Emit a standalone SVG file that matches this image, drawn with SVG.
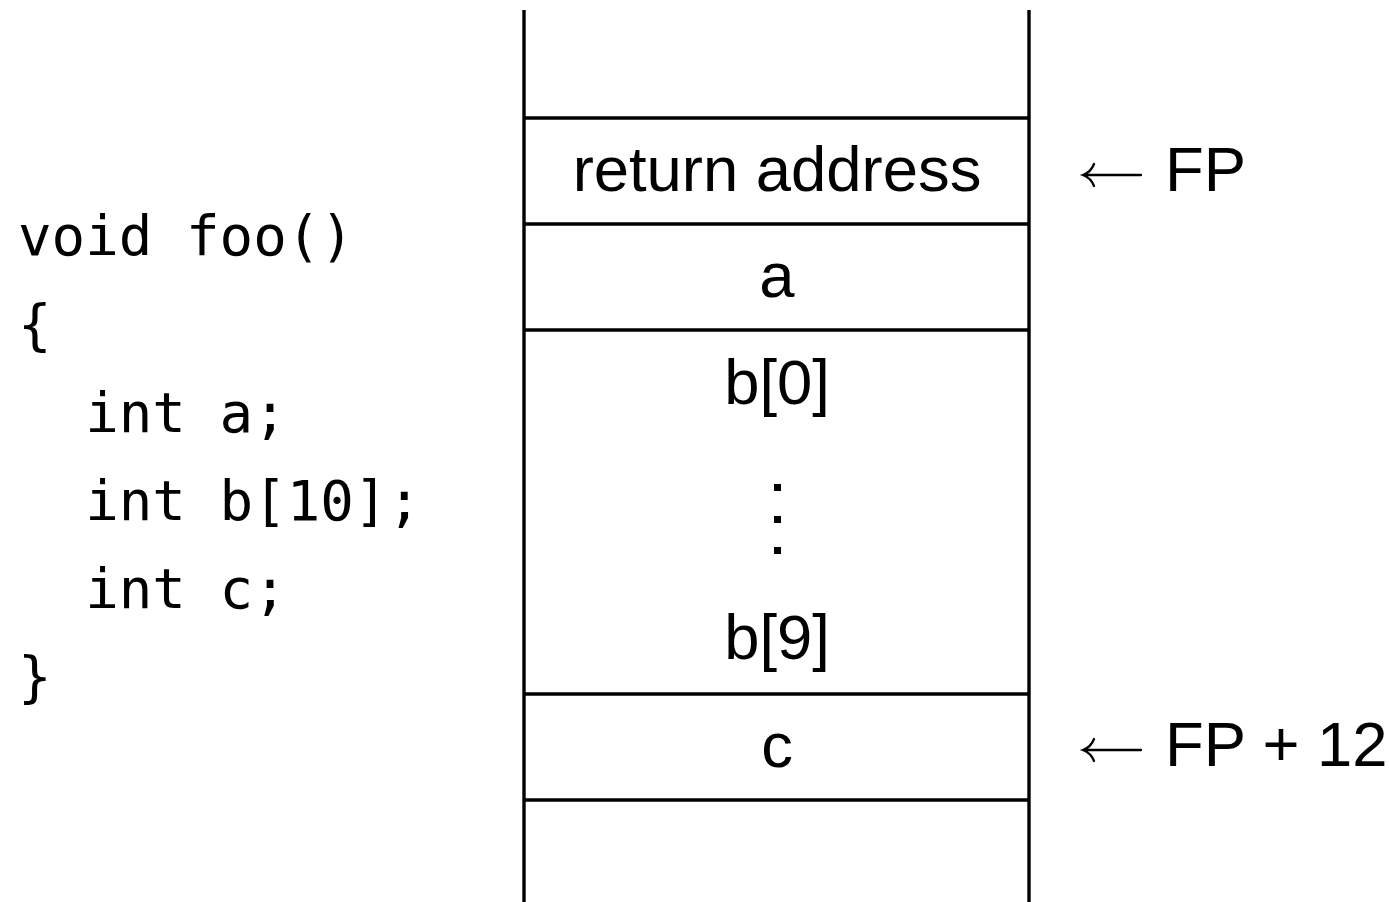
<svg xmlns="http://www.w3.org/2000/svg" width="1389" height="902" viewBox="0 0 1389 902">
<style>
.code{font-family:"DejaVu Sans Mono","Liberation Mono",monospace;font-size:55.8px;fill:#000}
.lbl{font-family:"Liberation Sans",Arial,sans-serif;font-size:63.4px;fill:#000}
.ln{stroke:#000;stroke-width:3.4;fill:none}
.arr{stroke:#000;stroke-width:2.3;fill:none;stroke-linecap:round}
</style>
<rect width="1389" height="902" fill="#fff"/>
<g id="code">
<text class="code" x="18" y="255">void foo()</text>
<text class="code" x="18" y="344">{</text>
<text class="code" x="18" y="432" xml:space="preserve">  int a;</text>
<text class="code" x="18" y="520" xml:space="preserve">  int b[10];</text>
<text class="code" x="18" y="608" xml:space="preserve">  int c;</text>
<text class="code" x="18" y="696">}</text>
</g>
<g id="stack">
<line class="ln" x1="524" y1="10" x2="524" y2="902"/>
<line class="ln" x1="1029" y1="10" x2="1029" y2="902"/>
<line class="ln" x1="524" y1="118" x2="1029" y2="118"/>
<line class="ln" x1="524" y1="224" x2="1029" y2="224"/>
<line class="ln" x1="524" y1="330" x2="1029" y2="330"/>
<line class="ln" x1="524" y1="694" x2="1029" y2="694"/>
<line class="ln" x1="524" y1="800" x2="1029" y2="800"/>
</g>
<g id="cell-ret"><text class="lbl" x="777" y="191" text-anchor="middle">return address</text></g>
<g id="cell-a"><text class="lbl" x="777" y="297" text-anchor="middle">a</text></g>
<g id="cell-b">
<text class="lbl" x="777" y="404" text-anchor="middle">b[0]</text>
<rect x="774" y="484" width="7" height="7"/>
<rect x="774" y="516" width="7" height="7"/>
<rect x="774" y="547" width="7" height="7"/>
<text class="lbl" x="777" y="659" text-anchor="middle">b[9]</text>
</g>
<g id="cell-c"><text class="lbl" x="777" y="767" text-anchor="middle">c</text></g>
<g id="connectors">
<path class="arr" d="M1084 175 H1141 M1094 164 Q1091 172 1083 175 Q1091 178 1094 186"/>
<path class="arr" d="M1084 750 H1141 M1094 739 Q1091 747 1083 750 Q1091 753 1094 761"/>
</g>
<g id="fp"><text class="lbl" x="1165" y="191">FP</text></g>
<g id="fp12"><text class="lbl" x="1165" y="766">FP + 12</text></g>
</svg>
